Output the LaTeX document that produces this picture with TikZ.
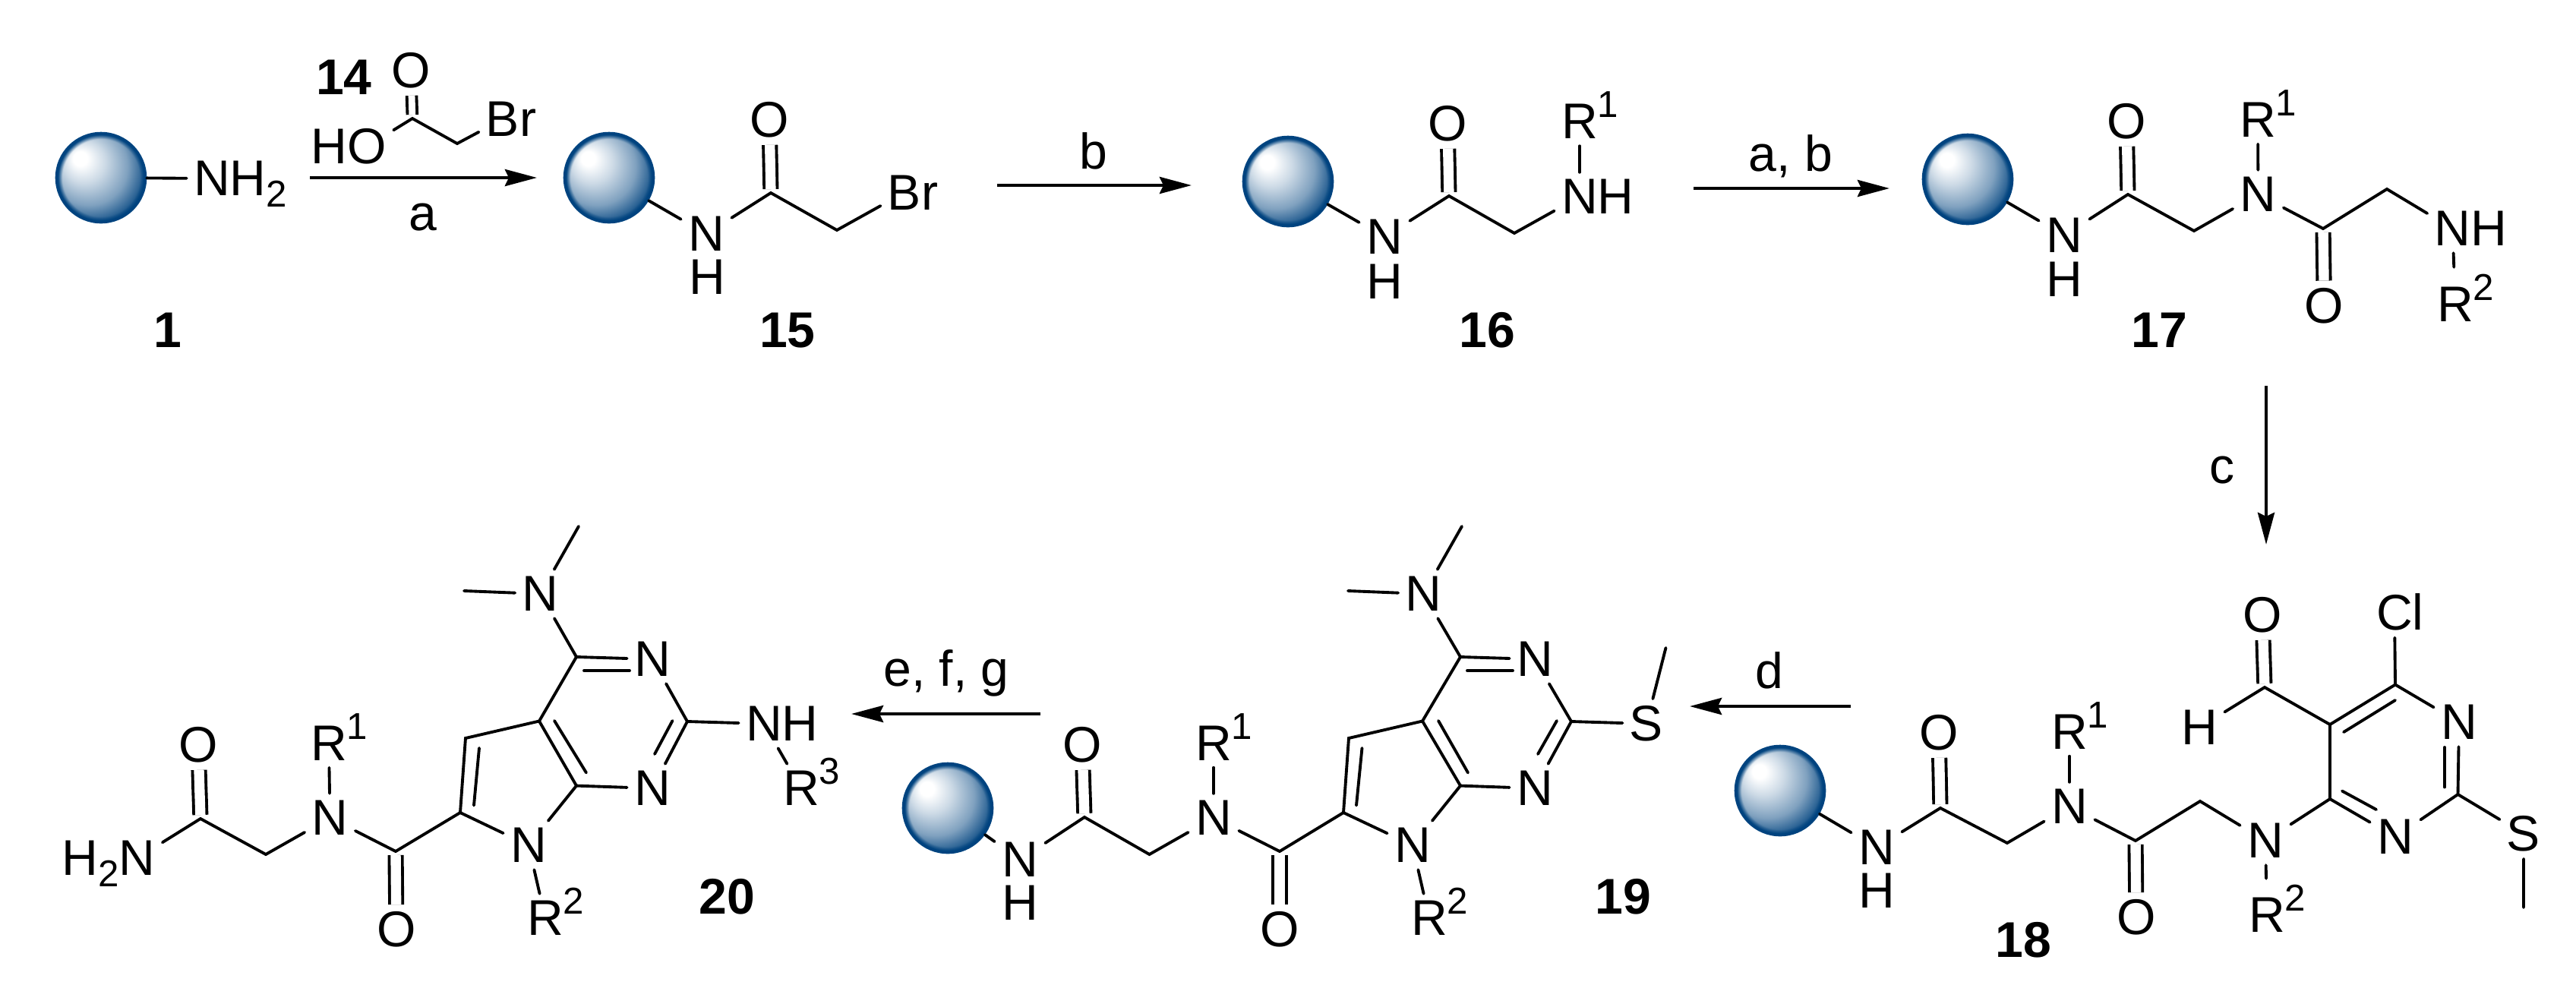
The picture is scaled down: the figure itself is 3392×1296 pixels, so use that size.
\documentclass[tikz,border=0pt]{standalone}
\usepackage{fontspec}
\setmainfont{Liberation Sans}
\usetikzlibrary{arrows.meta, fadings}

\definecolor{beadblue}{HTML}{00437F}
\pgfdeclareradialshading{beadshade}{\pgfpoint{-12.7bp}{11.7bp}}{%
    color(0bp)=(white); color(4bp)=(white); color(12bp)=(beadblue!20!white);
    color(22bp)=(beadblue!50!white); color(28bp)=(beadblue!80!white);
    color(32bp)=(beadblue); color(50bp)=(beadblue)}
\pgfdeclareradialshading{beadrimgray}{\pgfpointorigin}{%
    gray(0bp)=(0); gray(21.7bp)=(0); gray(24.2bp)=(1); gray(50bp)=(1)}
\pgfdeclarefading{beadrim}{\pgfuseshading{beadrimgray}}

\newcommand{\sbn}[1]{\smash{\raisebox{-4.3pt}{\fontsize{14}{14}\selectfont #1}}}
\newcommand{\spn}[1]{\rlap{\smash{\raisebox{8pt}{\fontsize{14}{14}\selectfont #1}}}}

\tikzset{
    atom/.style={inner sep=2.5pt, font=\fontsize{18.8}{22}\selectfont},
    cmpd/.style={inner sep=0pt, font=\fontsize{18.8}{22}\selectfont\bfseries},
    reagent/.style={inner sep=0pt, anchor=base, font=\fontsize{18.8}{22}\selectfont},
    bond/.style={line width=1.1pt, line cap=round},
    dbond/.style={line width=1.1pt, double, double distance=3.8pt, shorten <=0.05cm},
    rxn/.style={line width=1.25pt, -{Stealth[length=0.42cm, width=0.22cm, inset=0.05cm]}},
    bead/.style={circle, inner sep=0pt, minimum size=1.17cm, shading=beadshade,
        draw=beadblue, line width=1pt,
        postaction={fill=beadblue, path fading=beadrim, fit fading=true}}
}

\begin{document}
\begin{tikzpicture}[x=0.01cm, y=-0.01cm]
    \useasboundingbox (0,0) rectangle (3392,1296);

    % Compound 1
    \node[bead] (bead1) at (133,234) {};
    \node[atom] (nh1) at (279,235) {N\rlap{H\sbn{2}}};
    \node[cmpd] (lab1) at (221,434.5) {1};
    \draw[bond] (bead1) -- (nh1);

    % Bromoacetic acid 14
    \node[cmpd] (lab14) at (453,101.5) {14};
    \node[atom] (o14) at (541,93) {O};
    \node[atom] (oh14) at (483,193) {\llap{H}O};
    \node[atom] (br14) at (662,157) {B\rlap{r}};
    \coordinate (c14a) at (543,156);
    \coordinate (c14b) at (602,189);
    \draw[dbond, double distance=2.5pt] (c14a) -- (o14);
    \draw[bond] (oh14) -- (c14a) -- (c14b) -- (br14);

    % Arrow a
    \coordinate (arra1) at (408,234);
    \coordinate (arra2) at (707,234);
    \draw[rxn] (arra1) -- (arra2);
    \node[reagent] (lba) at (557,303) {a};

    % Compound 15
    \node[bead] (bead15) at (802,234) {};
    \node[atom] (n15) at (930,308) {N};
    \node[atom] (h15) at (931,365) {H};
    \node[atom] (o15) at (1013,158) {O};
    \node[atom] (br15) at (1191,253.5) {B\rlap{r}};
    \node[cmpd] (lab15) at (1037,435) {15};
    \coordinate (c15a) at (1015,254);
    \coordinate (c15b) at (1102,303);
    \draw[dbond] (c15a) -- (o15);
    \draw[bond] (bead15) -- (n15);
    \draw[bond] (n15) -- (c15a) -- (c15b) -- (br15);

    % Arrow b
    \coordinate (arrb1) at (1313,244);
    \coordinate (arrb2) at (1569,244);
    \draw[rxn] (arrb1) -- (arrb2);
    \node[reagent] (lbb) at (1440,222.5) {b};

    % Compound 16
    \node[bead] (bead16) at (1696,239) {};
    \node[atom] (n16a) at (1823,312) {N};
    \node[atom] (h16) at (1823,370.5) {H};
    \node[atom] (o16) at (1906,163) {O};
    \node[atom] (n16b) at (2080,259) {N\rlap{H}};
    \node[atom] (r16) at (2080,160) {R\spn{1}};
    \node[cmpd] (lab16) at (1958,435) {16};
    \coordinate (c16a) at (1908,258);
    \coordinate (c16b) at (1994,307);
    \draw[dbond] (c16a) -- (o16);
    \draw[bond] (bead16) -- (n16a);
    \draw[bond] (n16a) -- (c16a) -- (c16b) -- (n16b);
    \draw[bond] (n16b) -- (r16);

    % Arrow a, b
    \coordinate (arrab1) at (2230,248);
    \coordinate (arrab2) at (2488,248);
    \draw[rxn] (arrab1) -- (arrab2);
    \node[reagent] (lbab) at (2358,225) {a, b};

    % Compound 17
    \node[bead] (bead17) at (2591,236) {};
    \node[atom] (n17a) at (2718,310) {N};
    \node[atom] (h17) at (2718,367.5) {H};
    \node[atom] (o17a) at (2800,160) {O};
    \node[atom] (n17b) at (2973.5,256) {N};
    \node[atom] (r17a) at (2973,157.5) {R\spn{1}};
    \node[atom] (o17b) at (3060.5,402.5) {O};
    \node[atom] (n17c) at (3229.5,301) {N\rlap{H}};
    \node[atom] (r17b) at (3233,401) {R\spn{2}};
    \node[cmpd] (lab17) at (2843,435) {17};
    \coordinate (c17a) at (2802,256);
    \coordinate (c17b) at (2889,304);
    \coordinate (c17c) at (3059,301);
    \coordinate (c17d) at (3143,249);
    \draw[dbond] (c17a) -- (o17a);
    \draw[dbond] (c17c) -- (o17b);
    \draw[bond] (bead17) -- (n17a);
    \draw[bond] (n17a) -- (c17a) -- (c17b) -- (n17b);
    \draw[bond] (n17b) -- (r17a);
    \draw[bond] (n17b) -- (c17c) -- (c17d) -- (n17c);
    \draw[bond, shorten >=0.17cm] (n17c) -- (r17b);

    % Arrow c
    \coordinate (arrc1) at (2984,508);
    \coordinate (arrc2) at (2984,717);
    \draw[rxn] (arrc1) -- (arrc2);
    \node[reagent] (lbc) at (2926,636) {c};

    % Compound 18
    \node[bead] (bead18) at (2344,1041) {};
    \node[atom] (n18a) at (2471,1116) {N};
    \node[atom] (h18a) at (2471,1173) {H};
    \node[atom] (o18a) at (2553,965) {O};
    \node[atom] (n18b) at (2725,1062) {N};
    \node[atom] (r18a) at (2725,963.5) {R\spn{1}};
    \node[atom] (o18b) at (2813,1208) {O};
    \node[atom] (n18c) at (2983,1107) {N};
    \node[atom] (r18b) at (2985,1205) {R\spn{2}};
    \node[atom] (n18d) at (3154,1102) {N};
    \node[atom] (n18e) at (3238,951) {N};
    \node[atom] (s18) at (3323,1098) {S};
    \node[atom] (cl18) at (3153,806) {C\rlap{l}};
    \node[atom] (o18c) at (2979,810) {O};
    \node[atom] (h18b) at (2896,958) {H};
    \node[cmpd] (lab18) at (2664,1238) {18};
    \coordinate (c18a) at (2555,1064);
    \coordinate (c18b) at (2643,1110);
    \coordinate (c18c) at (2812,1107);
    \coordinate (c18d) at (2897,1055);
    \coordinate (c18e) at (3068,1052);
    \coordinate (c18f) at (3068,954);
    \coordinate (c18g) at (3154,901.5);
    \coordinate (c18h) at (3236.5,1046);
    \coordinate (c18i) at (2982,905);
    \coordinate (me18) at (3323,1195);
    \coordinate (in18a) at (3084,1041.5);
    \coordinate (in18b) at (3129,1066);
    \coordinate (in18c) at (3086,964);
    \coordinate (in18d) at (3154,922);
    \coordinate (in18e) at (3219,984);
    \coordinate (in18f) at (3219,1036.5);
    \draw[dbond] (c18a) -- (o18a);
    \draw[dbond] (c18c) -- (o18b);
    \draw[dbond] (c18i) -- (o18c);
    \draw[bond] (bead18) -- (n18a);
    \draw[bond] (n18a) -- (c18a) -- (c18b) -- (n18b);
    \draw[bond] (n18b) -- (r18a);
    \draw[bond] (n18b) -- (c18c) -- (c18d) -- (n18c);
    \draw[bond, shorten >=0.16cm] (n18c) -- (r18b);
    \draw[bond] (n18c) -- (c18e) -- (c18f) -- (c18g) -- (n18e);
    \draw[bond] (n18e) -- (c18h) -- (n18d) -- (c18e);
    \draw[bond] (in18a) -- (in18b);
    \draw[bond] (in18c) -- (in18d);
    \draw[bond] (in18e) -- (in18f);
    \draw[bond] (c18g) -- (cl18);
    \draw[bond] (h18b) -- (c18i) -- (c18f);
    \draw[bond] (c18h) -- (s18) -- (me18);

    % Arrow d
    \coordinate (arrd1) at (2437,930);
    \coordinate (arrd2) at (2225,930);
    \draw[rxn] (arrd1) -- (arrd2);
    \node[reagent] (lbd) at (2330,906.5) {d};

    % Compound 19
    \node[bead] (bead19) at (1248,1064) {};
    \node[atom] (n19a) at (1343,1132) {N};
    \node[atom] (h19) at (1343,1189) {H};
    \node[atom] (o19a) at (1425,981) {O};
    \node[atom] (n19b) at (1598,1077) {N};
    \node[atom] (r19a) at (1598,978.5) {R\spn{1}};
    \node[atom] (o19b) at (1685,1224) {O};
    \node[atom] (n19c) at (1860,1113) {N};
    \node[atom] (r19b) at (1882,1209) {R\spn{2}};
    \node[atom] (n19d) at (2021,868) {N};
    \node[atom] (n19e) at (2021,1038) {N};
    \node[atom] (n19f) at (1874.5,782) {N};
    \node[atom] (s19) at (2168,953) {S};
    \node[cmpd] (lab19) at (2137,1181) {19};
    \coordinate (c19a) at (1428,1076);
    \coordinate (c19b) at (1513.5,1125);
    \coordinate (c19c) at (1685,1121);
    \coordinate (c19d) at (1769,1070);
    \coordinate (c19e) at (1776,972);
    \coordinate (c19f) at (1873,949.5);
    \coordinate (c19g) at (1923,1034.6);
    \coordinate (c19h) at (1923,865);
    \coordinate (c19i) at (2069,950);
    \coordinate (me19a) at (1775,778);
    \coordinate (me19b) at (1925,693);
    \coordinate (me19c) at (2193.5,853);
    \coordinate (in19a) at (1793.5,985);
    \coordinate (in19b) at (1786,1060.5);
    \coordinate (in19c) at (1894,949);
    \coordinate (in19d) at (1933,1017.5);
    \coordinate (in19e) at (1932,883);
    \coordinate (in19f) at (1992,883);
    \coordinate (in19g) at (2050,949);
    \coordinate (in19h) at (2025,993);
    \draw[dbond] (c19a) -- (o19a);
    \draw[dbond] (c19c) -- (o19b);
    \draw[bond] (bead19) -- (n19a);
    \draw[bond] (n19a) -- (c19a) -- (c19b) -- (n19b);
    \draw[bond] (n19b) -- (r19a);
    \draw[bond] (n19b) -- (c19c) -- (c19d);
    \draw[bond] (n19c) -- (c19d) -- (c19e) -- (c19f) -- (c19g) -- (n19c);
    \draw[bond] (n19c) -- (r19b);
    \draw[bond] (c19f) -- (c19h) -- (n19d) -- (c19i) -- (n19e) -- (c19g);
    \draw[bond] (c19h) -- (n19f);
    \draw[bond] (me19a) -- (n19f) -- (me19b);
    \draw[bond] (c19i) -- (s19) -- (me19c);
    \draw[bond] (in19a) -- (in19b);
    \draw[bond] (in19c) -- (in19d);
    \draw[bond] (in19e) -- (in19f);
    \draw[bond] (in19g) -- (in19h);

    % Arrow e, f, g
    \coordinate (arre1) at (1370,940);
    \coordinate (arre2) at (1121,940);
    \draw[rxn] (arre1) -- (arre2);
    \node[reagent] (lbe) at (1246,903) {e, f, g};

    % Compound 20
    \node[atom] (n20a) at (180.5,1130) {\llap{H\sbn{2}}N};
    \node[atom] (o20a) at (261,981) {O};
    \node[atom] (n20b) at (434.5,1077) {N};
    \node[atom] (r20a) at (433,978.5) {R\spn{1}};
    \node[atom] (o20b) at (522,1224) {O};
    \node[atom] (n20c) at (696,1113) {N};
    \node[atom] (r20b) at (718,1209) {R\spn{2}};
    \node[atom] (n20d) at (859,868) {N};
    \node[atom] (n20e) at (859,1038) {N};
    \node[atom] (n20f) at (711.5,782) {N};
    \node[atom] (n20g) at (1006,953) {N\rlap{H}};
    \node[atom] (r20c) at (1055,1038) {R\spn{3}};
    \node[cmpd] (lab20) at (957.5,1181) {20};
    \coordinate (c20a) at (264,1078);
    \coordinate (c20b) at (350,1125);
    \coordinate (c20c) at (521,1121);
    \coordinate (c20d) at (606,1070);
    \coordinate (c20e) at (613,972);
    \coordinate (c20f) at (710,949.5);
    \coordinate (c20g) at (759,1034.6);
    \coordinate (c20h) at (759,865);
    \coordinate (c20i) at (905,950);
    \coordinate (me20a) at (611,778);
    \coordinate (me20b) at (762,693);
    \coordinate (in20a) at (631,985);
    \coordinate (in20b) at (624,1060.5);
    \coordinate (in20c) at (730,949);
    \coordinate (in20d) at (772,1017.5);
    \coordinate (in20e) at (769,883);
    \coordinate (in20f) at (829,883);
    \coordinate (in20g) at (885.5,949);
    \coordinate (in20h) at (862,993);
    \draw[dbond] (c20a) -- (o20a);
    \draw[dbond] (c20c) -- (o20b);
    \draw[bond] (n20a) -- (c20a) -- (c20b) -- (n20b);
    \draw[bond] (n20b) -- (r20a);
    \draw[bond] (n20b) -- (c20c) -- (c20d);
    \draw[bond] (n20c) -- (c20d) -- (c20e) -- (c20f) -- (c20g) -- (n20c);
    \draw[bond] (n20c) -- (r20b);
    \draw[bond] (c20f) -- (c20h) -- (n20d) -- (c20i) -- (n20e) -- (c20g);
    \draw[bond] (c20h) -- (n20f);
    \draw[bond] (me20a) -- (n20f) -- (me20b);
    \draw[bond] (c20i) -- (n20g) -- (r20c);
    \draw[bond] (in20a) -- (in20b);
    \draw[bond] (in20c) -- (in20d);
    \draw[bond] (in20e) -- (in20f);
    \draw[bond] (in20g) -- (in20h);
\end{tikzpicture}
\end{document}
